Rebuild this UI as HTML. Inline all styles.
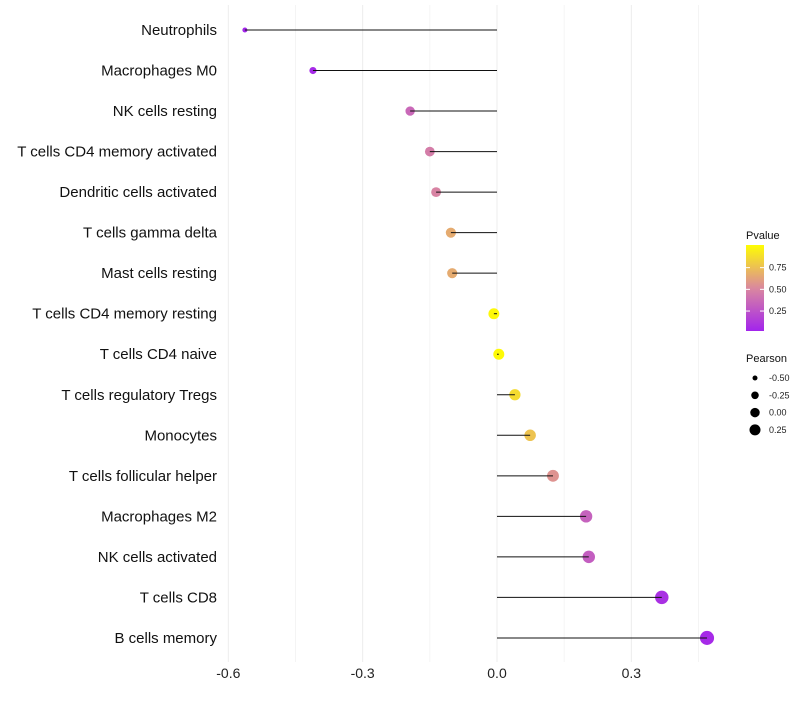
<!DOCTYPE html>
<html><head><meta charset="utf-8"><style>
body{margin:0;background:#fff;font-family:"Liberation Sans",sans-serif}
svg text{font-family:"Liberation Sans",sans-serif}
</style></head><body>
<svg id="c" width="800" height="700"></svg>
<script>
const categories=["Neutrophils","Macrophages M0","NK cells resting","T cells CD4 memory activated","Dendritic cells activated","T cells gamma delta","Mast cells resting","T cells CD4 memory resting","T cells CD4 naive","T cells regulatory  Tregs ","Monocytes","T cells follicular helper","Macrophages M2","NK cells activated","T cells CD8","B cells memory"];
const pearson=[-0.563,-0.411,-0.194,-0.150,-0.136,-0.103,-0.100,-0.007,0.004,0.040,0.074,0.125,0.199,0.205,0.368,0.469];
const pvalue=[0.03,0.05,0.35,0.45,0.48,0.65,0.65,0.97,0.98,0.85,0.75,0.55,0.32,0.30,0.08,0.05];
const xTicks=[-0.6,-0.3,0.0,0.3];
const xTickLabels=["-0.6","-0.3","0.0","0.3"];
const xMinor=[-0.45,-0.15,0.15,0.45];
const pTicks=[0.25,0.5,0.75];
const sizeLegend=[-0.5,-0.25,0,0.25];

const NS="http://www.w3.org/2000/svg",svg=document.getElementById('c');
function el(t,a,p){const e=document.createElementNS(NS,t);for(const k in a)e.setAttribute(k,a[k]);(p||svg).appendChild(e);return e;}
const x=v=>497+v*447.8;
const y=i=>30+i*40.53;
const rad=p=>Math.sqrt(Math.max(2.5,30+42*p));
const radL=p=>Math.sqrt(Math.max(2,22.25+32*p));
function col(p){
 const s=[[160,32,240],[218,135,160],[255,255,0]];
 let a,b,t;if(p<0.5){a=s[0];b=s[1];t=p/0.5}else{a=s[1];b=s[2];t=(p-0.5)/0.5}
 return `rgb(${a.map((v,k)=>Math.round(v+(b[k]-v)*t)).join(',')})`;
}
const g=el('g',{});


xMinor.forEach(v=>{el('line',{x1:x(v),x2:x(v),y1:5,y2:662,stroke:'#f4f4f4','stroke-width':1},g);});
xTicks.forEach((v,i)=>{el('line',{x1:x(v),x2:x(v),y1:5,y2:662,stroke:'#ececec','stroke-width':1},g);
 const t=el('text',{x:x(v),y:678,'text-anchor':'middle','font-size':14,fill:'#222'});t.textContent=xTickLabels[i];
 
 });
categories.forEach((c,i)=>{
 const t=el('text',{x:217,y:y(i)+5,'text-anchor':'end','font-size':15,fill:'#111'});t.textContent=c;
 
 
 const d=el('circle',{cx:x(pearson[i]),cy:y(i),r:rad(pearson[i]),fill:col(pvalue[i])});
 
 
 const l=el('line',{x1:x(0),x2:x(pearson[i]),y1:y(i),y2:y(i),stroke:'#111','stroke-width':1});
 
 
});
const lg=el('g',{});


let tt=el('text',{x:746,y:239,'font-size':11,fill:'#111'},lg);tt.textContent='Pvalue';
const defs=el('defs',{});const gr=el('linearGradient',{id:'pg',x1:0,y1:1,x2:0,y2:0},defs);
for(let k=0;k<=10;k++){el('stop',{offset:k/10,'stop-color':col(0.02+k*0.097)},gr);}
el('rect',{x:746,y:245,width:18,height:86,fill:'url(#pg)'},lg);
const py=p=>331-(p-0.02)/0.25*21.7;
pTicks.forEach(p=>{el('line',{x1:746,x2:750,y1:py(p),y2:py(p),stroke:'#fff'},lg);el('line',{x1:760,x2:764,y1:py(p),y2:py(p),stroke:'#fff'},lg);
 const t=el('text',{x:769,y:py(p)+3,'font-size':9,fill:'#222'},lg);t.textContent=p.toFixed(2);});
const sg=el('g',{});


tt=el('text',{x:746,y:362,'font-size':11,fill:'#111'},sg);tt.textContent='Pearson';
sizeLegend.forEach((p,k)=>{const cy=378+k*17.3;el('circle',{cx:755,cy:cy,r:radL(p),fill:'#000'},sg);
 const t=el('text',{x:769,y:cy+3,'font-size':9,fill:'#222'},sg);t.textContent=p.toFixed(2);});
</script>
</body></html>
